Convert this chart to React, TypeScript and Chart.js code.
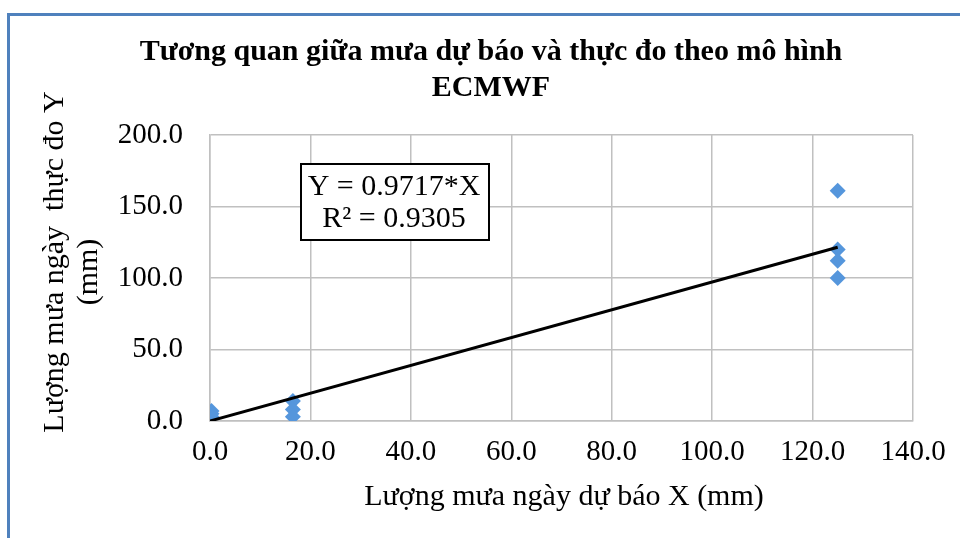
import React, { useEffect, useRef } from "react";
import { Chart, registerables } from "chart.js";

Chart.register(...registerables);

const forecastX = [0.3, 0.3, 0.3, 16.5, 16.5, 16.5, 125, 125, 125, 125];
const observedY = [7, 5, 3, 14, 8, 3, 161, 120, 112, 100];
const slope = 0.9717;
const trendEndX = 125;
const equationLines = ["Y = 0.9717*X", "R² = 0.9305"];
const titleLines = ["Tương quan giữa mưa dự báo và thực đo theo mô hình", "ECMWF"];
const yTitleLines = ["Lượng mưa ngày  thực đo Y", "(mm)"];
const xTitle = "Lượng mưa ngày dự báo X (mm)";

const SERIF = "'Liberation Serif', 'Times New Roman', serif";

const decorPlugin = {
  id: "decor",
  beforeDraw(chart: any) {
    const ctx = chart.ctx;
    ctx.save();
    ctx.fillStyle = "#ffffff";
    ctx.fillRect(0, 0, chart.width, chart.height);
    ctx.strokeStyle = "#4f81bd";
    ctx.lineWidth = 3;
    ctx.beginPath();
    ctx.moveTo(8.5, chart.height);
    ctx.lineTo(8.5, 14.5);
    ctx.lineTo(chart.width, 14.5);
    ctx.stroke();
    ctx.restore();
  },
  afterDraw(chart: any) {
    const ctx = chart.ctx;
    ctx.save();
    ctx.fillStyle = "#000";
    ctx.textAlign = "center";
    ctx.textBaseline = "middle";
    ctx.font = `bold 30px ${SERIF}`;
    ctx.fillText(titleLines[0], 491, 52);
    ctx.fillText(titleLines[1], 491, 88);

    ctx.font = `30px ${SERIF}`;
    ctx.fillText(xTitle, 564, 497);

    ctx.save();
    ctx.translate(55, 262);
    ctx.rotate(-Math.PI / 2);
    ctx.fillText(yTitleLines[0], 0, 0);
    ctx.restore();
    ctx.save();
    ctx.translate(89, 272);
    ctx.rotate(-Math.PI / 2);
    ctx.fillText(yTitleLines[1], 0, 0);
    ctx.restore();

    // equation box
    ctx.strokeStyle = "#000";
    ctx.lineWidth = 2;
    ctx.fillStyle = "#fff";
    ctx.fillRect(301, 164, 188, 76);
    ctx.strokeRect(301, 164, 188, 76);
    ctx.fillStyle = "#000";
    ctx.font = `30px ${SERIF}`;
    ctx.fillText(equationLines[0], 394, 187);
    ctx.fillText(equationLines[1], 394, 219);
    ctx.restore();
  },
};

export default function App() {
  const ref = useRef<HTMLCanvasElement>(null);
  useEffect(() => {
    if (!ref.current) return;
    const points = forecastX.map((x, i) => ({ x, y: observedY[i] }));
    const chart = new Chart(ref.current, {
      type: "scatter",
      data: {
        datasets: [
          {
            type: "line",
            data: [
              { x: 0, y: 0 },
              { x: trendEndX, y: slope * trendEndX },
            ],
            borderColor: "#000",
            borderWidth: 3,
            pointRadius: 0,
            fill: false,
          } as any,
          {
            data: points,
            pointStyle: "rectRot",
            pointRadius: 8,
            backgroundColor: "#5596dc",
            borderColor: "#5596dc",
            borderWidth: 0,
          },
        ],
      },
      options: {
        responsive: false,
        animation: false,
        layout: { padding: { top: 135, right: 47, left: 0, bottom: 0 } },
        plugins: { legend: { display: false }, tooltip: { enabled: false }, title: { display: false } },
        scales: {
          x: {
            type: "linear",
            min: 0,
            max: 140,
            afterFit: (s: any) => {
              s.height = 117;
            },
            ticks: {
              stepSize: 20,
              padding: 14,
              color: "#000",
              font: { family: SERIF, size: 29 },
              callback: (v: any) => Number(v).toFixed(1),
            },
            grid: { color: "#c0c0c0", lineWidth: 1.5, drawTicks: false },
            border: { display: true, color: "#c0c0c0", width: 1.5 },
          },
          y: {
            type: "linear",
            min: 0,
            max: 200,
            afterFit: (s: any) => {
              s.width = 210;
            },
            ticks: {
              stepSize: 50,
              padding: 27,
              color: "#000",
              font: { family: SERIF, size: 29 },
              callback: (v: any) => Number(v).toFixed(1),
            },
            grid: { color: "#c0c0c0", lineWidth: 1.5, drawTicks: false },
            border: { display: true, color: "#c0c0c0", width: 1.5 },
          },
        },
      },
      plugins: [decorPlugin],
    });
    return () => chart.destroy();
  }, []);
  return (
    <canvas
      ref={ref}
      width={960}
      height={538}
      style={{ position: "absolute", left: 0, top: 0, width: 960, height: 538 }}
    />
  );
}
